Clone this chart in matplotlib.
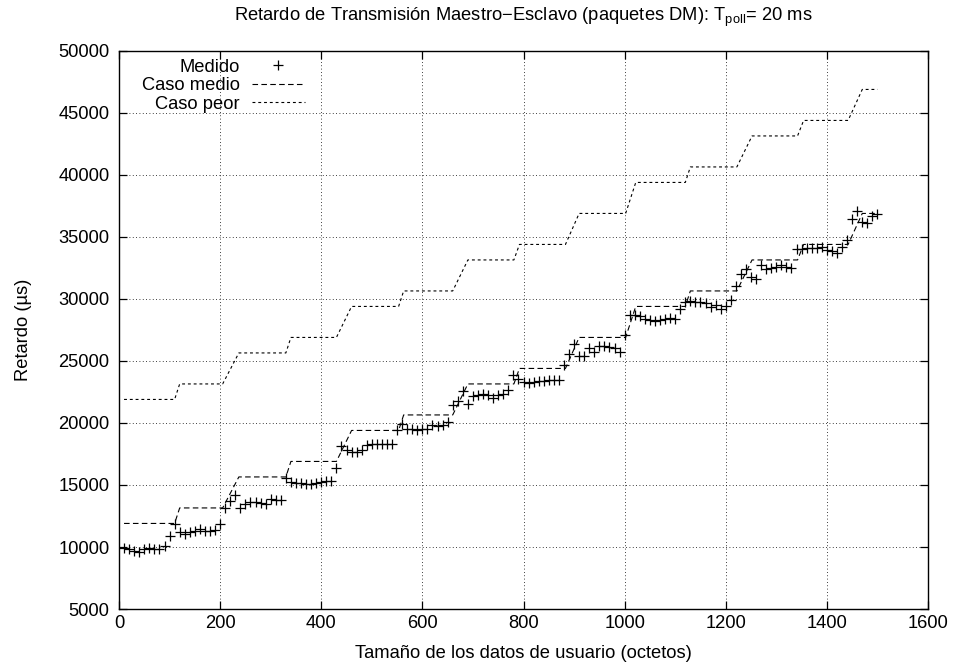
import matplotlib
matplotlib.use("Agg")
import matplotlib.pyplot as plt

plt.rcParams['font.family'] = ['Liberation Sans', 'DejaVu Sans']
plt.rcParams['mathtext.fontset'] = 'custom'
plt.rcParams['mathtext.rm'] = 'Liberation Sans'
plt.rcParams['mathtext.it'] = 'Liberation Sans'

# Measured points (octets, microseconds)
med_x = list(range(10, 1510, 10))
med_y = [
    9950, 9830, 9700, 9620, 9800, 9880, 9840, 9810, 10100, 10850,
    11830, 11250, 11050, 11220, 11300, 11420, 11300, 11300, 11400, 11830,
    13150, 13680, 14200, 13170, 13500, 13630, 13650, 13580, 13450, 13900,
    13820, 13760, 15550, 15250, 15190, 15160, 15110, 15110, 15160, 15250,
    15300, 15300, 16400, 18120, 17800, 17660, 17660, 17850, 18200, 18330,
    18280, 18280, 18280, 18330, 19400, 19950, 19540, 19540, 19460, 19540,
    19540, 19810, 19750, 19860, 20080, 21450, 21800, 22550, 21560, 22150,
    22230, 22300, 22230, 22050, 22230, 22370, 22640, 23850, 23580, 23310,
    23230, 23310, 23360, 23390, 23440, 23440, 23440, 24650, 25550, 26350,
    25400, 25400, 26080, 25700, 26200, 26230, 26150, 26080, 25700, 27120,
    28700, 28680, 28650, 28350, 28280, 28250, 28280, 28360, 28450, 28420,
    29220, 29780, 29800, 29760, 29780, 29700, 29320, 29550, 29200, 29450,
    29880, 31050, 32000, 32440, 31800, 31600, 32720, 32380, 32520, 32580,
    32780, 32550, 32530, 34060, 34060, 34140, 34140, 34140, 34190, 33920,
    33870, 33710, 34190, 34780, 36480, 37100, 36200, 36130, 36700, 36850,
]

# Average case (vertices of the step curve)
avg_x = [10, 110, 120, 205, 237, 330, 340, 430, 460, 553, 563, 660, 690,
         781, 792, 883, 910, 1002, 1022, 1120, 1130, 1222, 1252, 1342, 1354,
         1442, 1470, 1500]
avg_y = [11900, 11900, 13150, 13150, 15650, 15650, 16900, 16900, 19400,
         19400, 20650, 20650, 23150, 23150, 24400, 24400, 26900, 26900,
         29400, 29400, 30650, 30650, 33150, 33150, 34400, 34400, 36900, 36900]

# Worst case (vertices of the step curve)
worst_x = avg_x
worst_y = [21900, 21900, 23150, 23150, 25650, 25650, 26900, 26900, 29400,
           29400, 30650, 30650, 33150, 33150, 34400, 34400, 36900, 36900,
           39400, 39400, 40650, 40650, 43150, 43150, 44400, 44400, 46900, 46900]

xticks = [0, 200, 400, 600, 800, 1000, 1200, 1400, 1600]
yticks = [5000, 10000, 15000, 20000, 25000, 30000, 35000, 40000, 45000, 50000]

FS = 13.2

fig = plt.figure(figsize=(9.57, 6.69), dpi=100)
ax = fig.add_axes([119/957, 1-609/669, (928-119)/957, (609-51)/669])

ax.plot(med_x, med_y, linestyle='none', marker='+', markersize=7,
        markeredgewidth=0.9, color='black', label='Medido')
ax.plot(avg_x, avg_y, color='black', linewidth=0.8,
        linestyle=(0, (5.0, 3.0)), label='Caso medio')
ax.plot(worst_x, worst_y, color='black', linewidth=0.8,
        linestyle=(0, (2.6, 2.6)), label='Caso peor')

ax.set_xlim(0, 1600)
ax.set_ylim(5000, 50000)
ax.set_xticks(xticks)
ax.set_yticks(yticks)
ax.tick_params(direction='in', length=6, width=0.9, top=True, right=True,
               labelsize=FS, colors='black')
ax.tick_params(axis='x', pad=4)
ax.tick_params(axis='y', pad=7)
for s in ax.spines.values():
    s.set_linewidth(1.0)
ax.grid(True, color='black', linestyle=(0, (1, 3)), linewidth=0.6)

ax.set_xlabel('Tamaño de los datos de usuario (octetos)', fontsize=FS, labelpad=10)
ax.set_ylabel('Retardo (µs)', fontsize=FS, labelpad=19)
fig.text(523/957, 1-17/669,
         r'Retardo de Transmisión Maestro−Esclavo (paquetes DM): T$_{\mathregular{poll}}$= 20 ms',
         ha='center', va='center', fontsize=FS)

ax.legend(loc='upper left', bbox_to_anchor=(0.028, 0.986), frameon=False,
          markerfirst=False, fontsize=FS, handlelength=2.9, handletextpad=0.65,
          labelspacing=0.08, borderpad=0, borderaxespad=0, numpoints=1)

fig.savefig('out.png', dpi=100)
